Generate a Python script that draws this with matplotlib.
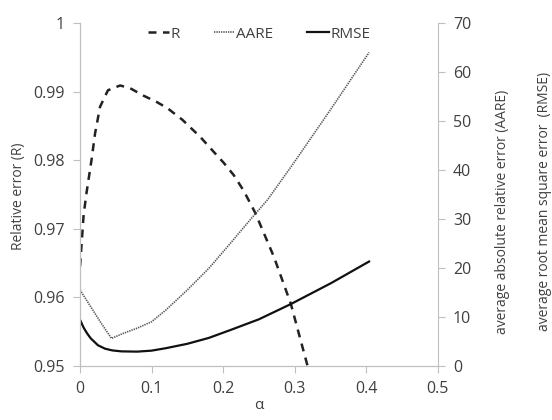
import numpy as np
import matplotlib.pyplot as plt

# values
alpha_r = [0, 0.005, 0.009, 0.016, 0.021, 0.028, 0.039, 0.056, 0.07, 0.089,
           0.107, 0.122, 0.143, 0.168, 0.187, 0.201, 0.215, 0.229, 0.245,
           0.271, 0.2945, 0.318]
r_vals = [0.9645, 0.972, 0.9752, 0.980, 0.9839, 0.9878, 0.9902, 0.9909, 0.9905,
          0.9894, 0.9885, 0.9876, 0.9859, 0.9834, 0.9812, 0.9796, 0.9778,
          0.9755, 0.9723, 0.9659, 0.9591, 0.950]

alpha_e = [0, 0.01, 0.02, 0.03, 0.044, 0.06, 0.08, 0.1, 0.12, 0.15, 0.18,
           0.21, 0.24, 0.262, 0.3, 0.35, 0.404]
aare = [15.5, 13.2, 10.9, 8.6, 5.6, 6.6, 7.7, 9.0, 11.4, 15.5, 19.9,
        25, 30.2, 33.9, 41.7, 52.3, 64]

alpha_m = [0, 0.005, 0.01, 0.015, 0.025, 0.035, 0.045, 0.058, 0.08, 0.1,
           0.12, 0.15, 0.18, 0.21, 0.25, 0.2945, 0.351, 0.404]
rmse = [9.4, 7.8, 6.6, 5.6, 4.2, 3.5, 3.15, 2.95, 2.9, 3.1,
        3.6, 4.5, 5.7, 7.3, 9.5, 12.6, 16.9, 21.3]

plt.rcParams['font.family'] = ['Open Sans', 'DejaVu Sans']
txt = '#404040'
grey = '#bfbfbf'

fig = plt.figure(figsize=(5.52, 4.2), dpi=100)
ax = fig.add_axes([0.145, 0.129, 0.648, 0.816])
ax2 = ax.twinx()

l1, = ax.plot(alpha_r, r_vals, color='#222222', lw=1.8, ls=(0, (3.2, 2.6)), label='R')
l2, = ax2.plot(alpha_e, aare, color='#555555', lw=1.2, ls=(0, (0.8, 0.6)), label='AARE')
l3, = ax2.plot(alpha_m, rmse, color='#111111', lw=1.6, label='RMSE')

ax.set_xlim(0, 0.5)
ax.set_ylim(0.95, 1.0)
ax2.set_ylim(0, 70)
ax.set_xticks([0, 0.1, 0.2, 0.3, 0.4, 0.5])
ax.set_xticklabels(['0', '0.1', '0.2', '0.3', '0.4', '0.5'])
ax.set_yticks([0.95, 0.96, 0.97, 0.98, 0.99, 1.0])
ax.set_yticklabels(['0.95', '0.96', '0.97', '0.98', '0.99', '1'])
ax2.set_yticks(range(0, 71, 10))

for a in (ax, ax2):
    a.spines['top'].set_visible(False)
    for s in ('left', 'right', 'bottom'):
        a.spines[s].set_color(grey)
    a.tick_params(colors=grey, labelcolor=txt, labelsize=11.5, length=5, pad=6)
ax.spines['right'].set_visible(False)

ax.set_xlabel('α', color=txt, fontsize=11)
ax.xaxis.set_label_coords(0.5, -0.095)

fig.text(0.033, 0.533, 'Relative error (R)', rotation=90,
         ha='center', va='center', color=txt, fontsize=10)
fig.text(0.911, 0.495, 'average absolute relative error (AARE)', rotation=90,
         ha='center', va='center', color=txt, fontsize=10)
fig.text(0.987, 0.521, 'average root mean square error  (RMSE)', rotation=90,
         ha='center', va='center', color=txt, fontsize=10)

ax.legend(handles=[l1, l2, l3], loc='upper center', bbox_to_anchor=(0.5, 1.03),
          ncol=3, frameon=False, fontsize=11, handlelength=1.4,
          handletextpad=0.1, columnspacing=2.2, labelcolor=txt)

fig.savefig('out.png', dpi=100)
